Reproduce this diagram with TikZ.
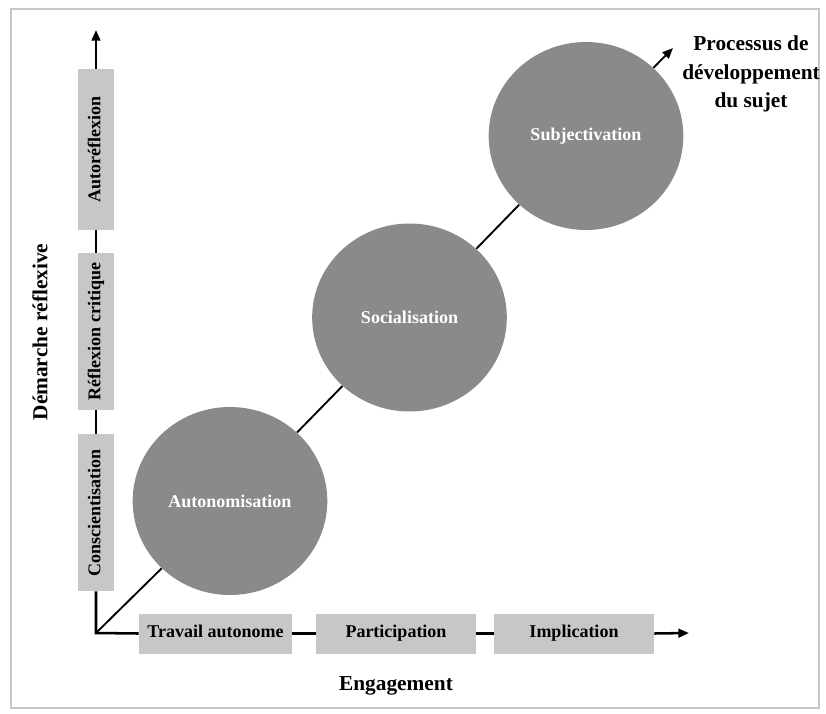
\documentclass[tikz,border=0pt]{standalone}
\usepackage{fontspec}
\setmainfont{Liberation Serif}
\usetikzlibrary{arrows.meta,shapes.geometric}

\tikzset{
  etape/.style={ellipse,fill=black!46,minimum width=146pt,minimum height=141pt,
    inner sep=0pt,text=white,font=\bfseries\fontsize{13.5}{15}\selectfont},
  palier/.style={fill=black!22,minimum height=30pt,inner sep=0pt,
    text height=9.5pt,text depth=3pt,
    font=\bfseries\fontsize{13.5}{15}\selectfont},
  vpalier/.style={palier,rotate=90,minimum height=27pt},
  titre/.style={font=\bfseries\fontsize{16}{21.5}\selectfont},
  axe/.style={line width=1.9pt},
  fleche/.style={-{Triangle[length=8pt,width=6.5pt]}},
}

\begin{document}
\begin{tikzpicture}[x=0.75pt,y=-0.75pt]
    \useasboundingbox (0,0) rectangle (826,714);
    % Frame
    \draw[black!22,line width=1pt] (11,9) rectangle (819,708);

    % Axes ends
    \coordinate (O) at (96,633);
    \coordinate (ytop) at (96,30);
    \coordinate (xend) at (689,633);
    \coordinate (dtip) at (673,48);

    % Vertical steps
    \node[vpalier,minimum width=118pt] (consc) at (96,512.5) {Conscientisation};
    \node[vpalier,minimum width=118pt] (reflex) at (96,331.5) {Réflexion critique};
    \node[vpalier,minimum width=121pt] (autoref) at (96,149.5) {Autoréflexion};

    % Horizontal steps
    \node[palier,minimum width=115pt] (travail) at (215.5,633.5) {Travail autonome};
    \node[palier,minimum width=120pt] (particip) at (396,633.5) {Participation};
    \node[palier,minimum width=120pt] (implic) at (574,633.5) {Implication};

    % Stages
    \node[etape] (autonom) at (230,501) {Autonomisation};
    \node[etape] (social) at (409.5,317.5) {Socialisation};
    \node[etape] (subject) at (586,136) {Subjectivation};

    % Axes
    \draw[axe] (consc.west) -- (O) -- (travail.west);
    \draw[axe] (consc.east) -- (reflex.west);
    \draw[axe] (reflex.east) -- (autoref.west);
    \draw[axe,fleche] (autoref.east) -- (ytop);
    \draw[axe] (travail.east) -- (particip.west);
    \draw[axe] (particip.east) -- (implic.west);
    \draw[axe,fleche] (implic.east) -- (xend);

    % Diagonal
    \draw[line width=1.4pt] (O) -- (autonom);
    \draw[line width=1.4pt] (autonom) -- (social);
    \draw[line width=1.4pt] (social) -- (subject);
    \draw[line width=1.4pt,fleche] (subject) -- (dtip);

    % Labels
    \node[titre,align=center] (processus) at (751,74) {Processus de\\développement\\du sujet};
    \node[titre] (engag) at (396,686) {Engagement};
    \node[titre,rotate=90] (demarche) at (40,332) {Démarche réflexive};
\end{tikzpicture}
\end{document}
